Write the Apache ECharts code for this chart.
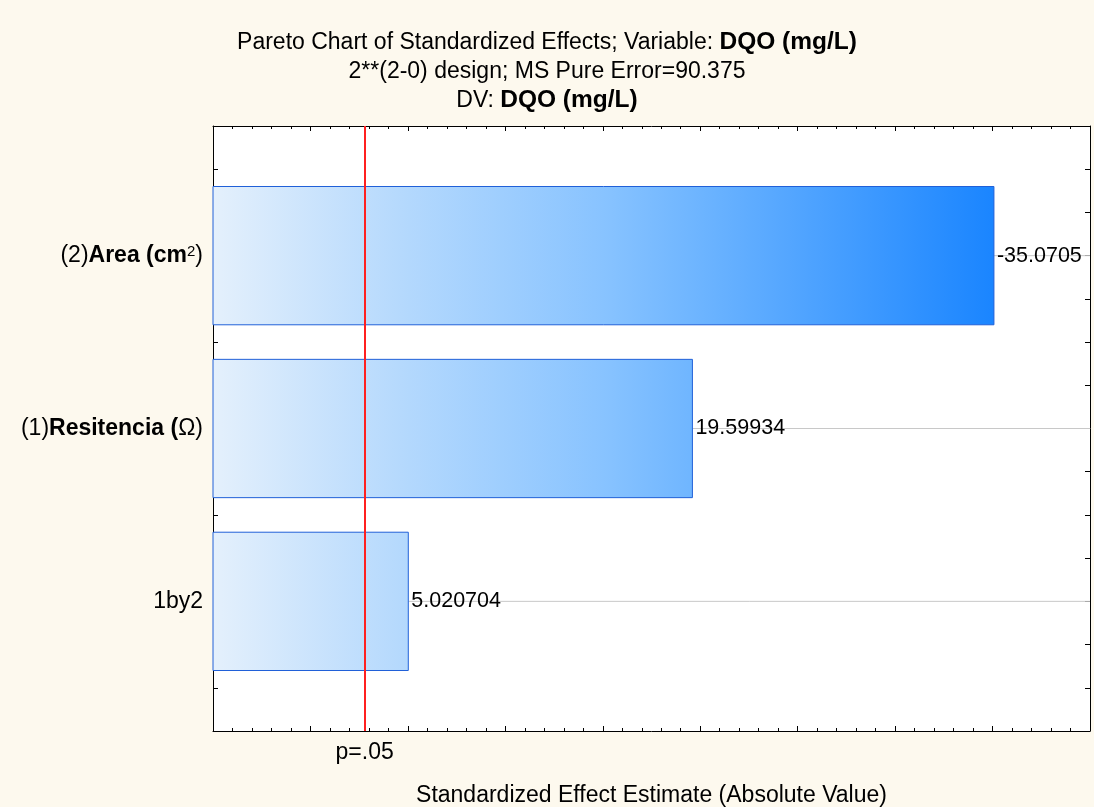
<!DOCTYPE html>
<html>
<head>
<meta charset="utf-8">
<script src="https://cdn.jsdelivr.net/npm/echarts@6/dist/echarts.min.js"></script>
<style>
html,body{margin:0;padding:0;background:#FDF9EE;}
#chart{width:1094px;height:807px;}
</style>
</head>
<body>
<div id="chart"></div>
<script>
// ---- data ----
const categories = ['1by2', '(1)Resitencia (Ω)', '(2)Area (cm2)'];
const categoryLabels = ['{n|1by2}', '{n|(1)}{b|Resitencia (}{n|Ω)}', '{n|(2)}{b|Area (cm}{s|2}{n|)}'];
const effects = [5.020704, 19.59934, 35.0705];
const effectLabels = ['5.020704', '19.59934', '-35.0705'];
const pCritical = 2.776;
const pLabel = 'p=.05';
const xMin = -5, xMax = 40, xInterval = 5;
const yMin = -0.75, yMax = 2.75, yInterval = 0.25;

const FONT = 'Liberation Sans, Arial, sans-serif';
const chart = echarts.init(document.getElementById('chart'));

const maxEffect = Math.max.apply(null, effects);

function renderBar(params, api) {
  const v = api.value(0);
  const idx = api.value(1);
  const start = api.coord([xMin, idx]);
  const end = api.coord([v, idx]);
  const right = api.coord([xMax, idx]);
  const h = api.size([0, 0.8])[1];
  const gStart = api.coord([xMin, 0])[0];
  const gEnd = api.coord([maxEffect, 0])[0];
  return {
    type: 'group',
    children: [
      { type: 'line', shape: { x1: end[0], y1: end[1], x2: right[0], y2: end[1] },
        style: { stroke: '#C8C8C8', lineWidth: 1 } },
      { type: 'rect', shape: { x: start[0], y: start[1] - h / 2, width: end[0] - start[0], height: h },
        style: {
          fill: new echarts.graphic.LinearGradient(gStart, 0, gEnd, 0, [
            { offset: 0, color: '#E4F0FC' },
            { offset: 0.24, color: '#B5D9FD' },
            { offset: 0.5, color: '#88C3FF' },
            { offset: 0.61, color: '#70B6FF' },
            { offset: 1, color: '#1A85FF' }
          ], true),
          stroke: '#2060D8', lineWidth: 1
        } },
      { type: 'text', x: end[0] + 3, y: end[1],
        style: { text: effectLabels[params.dataIndex], fill: '#000', font: '21.5px ' + FONT,
                 verticalAlign: 'middle', align: 'left' } }
    ]
  };
}

function axisBase() {
  return {
    axisLine: { show: true, onZero: false, lineStyle: { color: '#000', width: 1 } },
    splitLine: { show: false }
  };
}

chart.setOption({
  backgroundColor: '#FDF9EE',
  animation: false,
  title: {
    left: 'center', top: 23,
    text: '{n|Pareto Chart of Standardized Effects; Variable: }{b|DQO (mg/L)}\n{n|2**(2-0) design; MS Pure Error=90.375}\n{n|DV: }{b|DQO (mg/L)}',
    textStyle: {
      fontWeight: 'normal', fontSize: 23, lineHeight: 29,
      rich: {
        n: { fontFamily: FONT, fontSize: 23, color: '#000', fontWeight: 'normal', lineHeight: 29 },
        b: { fontFamily: FONT, fontSize: 24.5, color: '#000', fontWeight: 'bold', lineHeight: 29 }
      }
    }
  },
  grid: { left: 213, right: 4, top: 126, bottom: 76, show: true, backgroundColor: '#FFFFFF', borderWidth: 0,
          containLabel: false, outerBoundsMode: 'none' },
  xAxis: [
    Object.assign(axisBase(), {
      type: 'value', min: xMin, max: xMax, interval: xInterval, position: 'bottom',
      axisTick: { show: true, inside: true, length: 5, lineStyle: { color: '#000' } },
      minorTick: { show: true, splitNumber: 5, length: 3, lineStyle: { color: '#000' } },
      axisLabel: { show: false },
      name: 'Standardized Effect Estimate (Absolute Value)',
      nameLocation: 'middle', nameGap: 53,
      nameTextStyle: { fontFamily: FONT, fontSize: 23, color: '#000' }
    }),
    Object.assign(axisBase(), {
      type: 'value', min: xMin, max: xMax, interval: xInterval, position: 'top',
      axisTick: { show: true, inside: true, length: 5, lineStyle: { color: '#000' } },
      minorTick: { show: true, splitNumber: 5, length: 3, lineStyle: { color: '#000' } },
      axisLabel: { show: false }
    })
  ],
  yAxis: [
    Object.assign(axisBase(), {
      type: 'value', min: yMin, max: yMax, interval: yInterval, position: 'left',
      axisTick: { show: true, inside: true, length: 5, lineStyle: { color: '#000' } },
      axisLabel: {
        show: true, margin: 10,
        formatter: function (val) {
          const r = Math.round(val);
          if (Math.abs(val - r) < 1e-6 && r >= 0 && r < categoryLabels.length) return categoryLabels[r];
          return '';
        },
        rich: {
          n: { fontFamily: FONT, fontSize: 23, color: '#000' },
          b: { fontFamily: FONT, fontSize: 23, color: '#000', fontWeight: 'bold' },
          s: { fontFamily: FONT, fontSize: 15, color: '#000', verticalAlign: 'top', padding: [0, 0, 8, 0] }
        }
      }
    }),
    Object.assign(axisBase(), {
      type: 'value', min: yMin, max: yMax, interval: yInterval, position: 'right',
      axisTick: { show: true, inside: true, length: 5, lineStyle: { color: '#000' } },
      axisLabel: { show: false }
    })
  ],
  series: [
    {
      type: 'custom',
      xAxisIndex: 0, yAxisIndex: 0,
      renderItem: renderBar,
      encode: { x: 0, y: 1 },
      data: effects.map((v, i) => [v, i]),
      z: 2
    },
    {
      type: 'line', xAxisIndex: 0, yAxisIndex: 0, data: [], z: 5,
      markLine: {
        silent: true, symbol: 'none',
        lineStyle: { color: '#FF2020', width: 2, type: 'solid' },
        label: { show: true, position: 'start', formatter: pLabel, distance: 10,
                 fontFamily: FONT, fontSize: 23, color: '#000' },
        data: [{ xAxis: pCritical }]
      }
    }
  ]
});
</script>
</body>
</html>
